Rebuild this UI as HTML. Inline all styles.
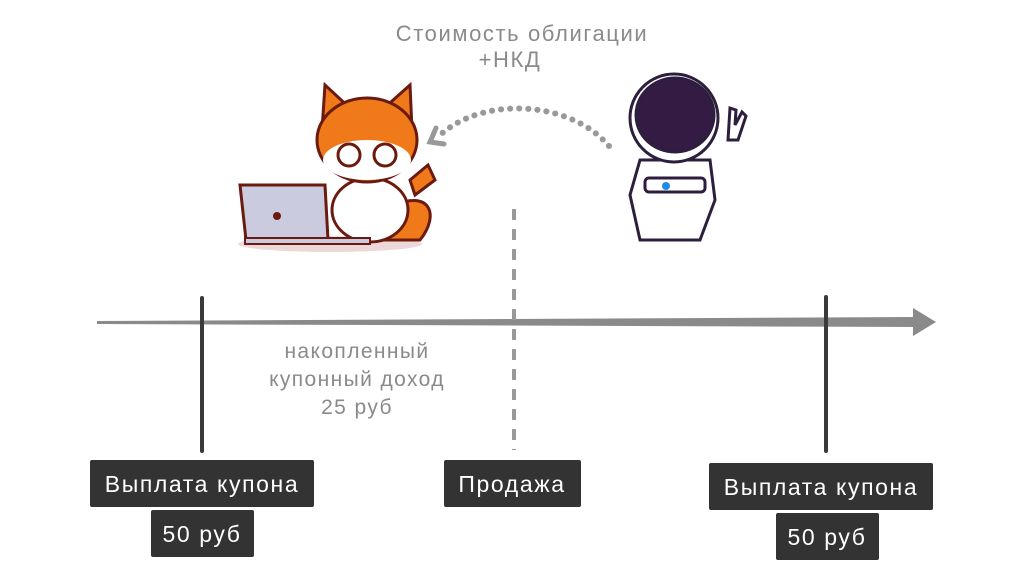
<!DOCTYPE html>
<html><head><meta charset="utf-8"><style>
body{margin:0;background:#fff;width:1033px;height:569px;overflow:hidden}
svg text{font-family:"Comic Sans MS","Liberation Sans","DejaVu Sans",sans-serif}
</style></head><body>
<svg width="1033" height="569" viewBox="0 0 1033 569" xmlns="http://www.w3.org/2000/svg">
<rect width="1033" height="569" fill="#fff"/>
<text x="522" y="41" font-size="22" letter-spacing="1.6" fill="#8a8a8a" text-anchor="middle">Стоимость облигации</text>
<text x="510" y="67" font-size="22" letter-spacing="1.6" fill="#8a8a8a" text-anchor="middle">+НКД</text>
<path d="M609,146 C570,100 480,95 437,138" fill="none" stroke="#999" stroke-width="6" stroke-linecap="round" stroke-dasharray="0.1 9"/>
<path d="M436,128 L430,142 L444,144" fill="none" stroke="#999" stroke-width="5" stroke-linecap="round"/>
<ellipse cx="330" cy="244" rx="92" ry="8" fill="#ecd8d8"/>
<path d="M322,130 L325,85 L352,110 Z" fill="#f07a1a" stroke="#6b1a10" stroke-width="3"/>
<path d="M412,130 L410,85 L382,110 Z" fill="#f07a1a" stroke="#6b1a10" stroke-width="3"/>
<path d="M395,205 C430,190 440,215 420,240 L380,240 Z" fill="#f07a1a" stroke="#6b1a10" stroke-width="3"/>
<ellipse cx="370" cy="210" rx="38" ry="32" fill="#fff" stroke="#6b1a10" stroke-width="3"/>
<ellipse cx="367" cy="140" rx="50" ry="42" fill="#f07a1a" stroke="#6b1a10" stroke-width="3"/>
<ellipse cx="367" cy="160" rx="44" ry="20" fill="#fff"/>
<circle cx="349" cy="155" r="11" fill="none" stroke="#6b1a10" stroke-width="3"/>
<circle cx="385" cy="155" r="11" fill="none" stroke="#6b1a10" stroke-width="3"/>
<path d="M410,180 L428,165 L435,180 L415,195 Z" fill="#f07a1a" stroke="#6b1a10" stroke-width="3"/>
<path d="M240,185 L325,185 L328,240 L246,240 Z" fill="#cbcbe0" stroke="#6b1a10" stroke-width="3"/>
<rect x="245" y="238" width="125" height="6" fill="#cbcbe0" stroke="#6b1a10" stroke-width="2"/>
<circle cx="277" cy="216" r="4" fill="#6b1a10"/>
<path d="M640,160 L710,160 L715,200 L700,240 L640,240 L630,195 Z" fill="#fff" stroke="#2d1e3e" stroke-width="3"/>
<rect x="645" y="178" width="60" height="14" rx="4" fill="#fff" stroke="#2d1e3e" stroke-width="3"/>
<circle cx="666" cy="186" r="4" fill="#1e8be6"/>
<circle cx="674" cy="118" r="44" fill="#fff" stroke="#2d1e3e" stroke-width="3"/>
<ellipse cx="675" cy="115" rx="39" ry="37" fill="#341b44" stroke="#2d1e3e" stroke-width="3"/>
<path d="M728,140 L730,108 L736,110 L735,125 L742,112 L746,116 L738,140 Z" fill="#fff" stroke="#2d1e3e" stroke-width="3"/>
<path d="M97,321 L915,317 L915,327 L97,324 Z" fill="#8a8a8a"/>
<path d="M913,308 L936,322 L913,336 Z" fill="#8a8a8a"/>
<line x1="202" y1="298" x2="202" y2="451" stroke="#3a3a3a" stroke-width="4" stroke-linecap="round"/>
<line x1="826" y1="297" x2="826" y2="451" stroke="#3a3a3a" stroke-width="4" stroke-linecap="round"/>
<line x1="514" y1="209" x2="514" y2="450" stroke="#999" stroke-width="4" stroke-dasharray="11 9"/>
<text x="357" y="358" font-size="21" letter-spacing="1.4" fill="#8a8a8a" text-anchor="middle">накопленный</text>
<text x="357" y="386" font-size="21" letter-spacing="1.4" fill="#8a8a8a" text-anchor="middle">купонный доход</text>
<text x="357" y="414" font-size="21" letter-spacing="1.4" fill="#8a8a8a" text-anchor="middle">25 руб</text>
<g font-size="23" letter-spacing="1.6" fill="#fff" text-anchor="middle">
<rect x="90" y="460" width="224" height="47" rx="2" fill="#333"/>
<text x="202" y="492">Выплата купона</text>
<rect x="151" y="510" width="103" height="47" rx="2" fill="#333"/>
<text x="202" y="542">50 руб</text>
<rect x="444" y="460" width="137" height="47" rx="2" fill="#333"/>
<text x="512" y="492">Продажа</text>
<rect x="709" y="463" width="224" height="47" rx="2" fill="#333"/>
<text x="821" y="495">Выплата купона</text>
<rect x="776" y="513" width="103" height="47" rx="2" fill="#333"/>
<text x="827" y="545">50 руб</text>
</g>
</svg>
</body></html>
